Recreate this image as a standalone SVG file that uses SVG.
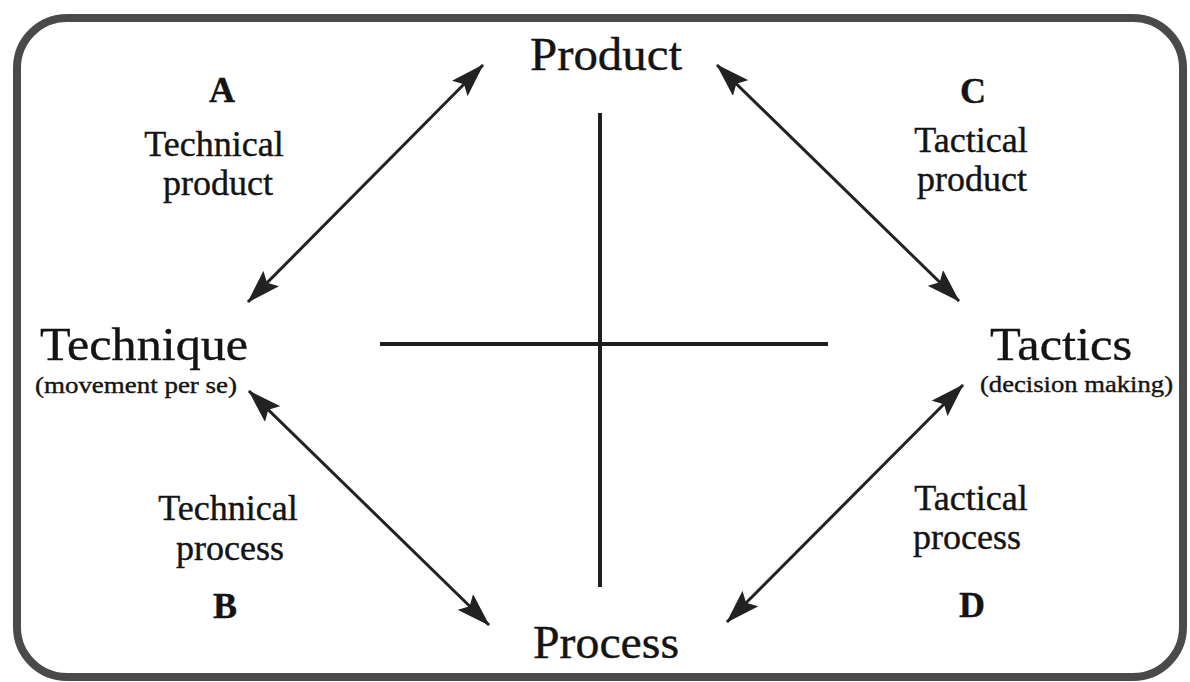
<svg xmlns="http://www.w3.org/2000/svg" width="1190" height="682" viewBox="0 0 1190 682">
<style>
text{font-family:"Liberation Serif","Times New Roman",serif;fill:#141414;stroke:#141414;stroke-width:0.4}
.big{font-size:47px}
.lab{font-size:36px;text-anchor:middle}
.let{font-size:36px;font-weight:bold;text-anchor:middle}
.sub{font-size:24px}
.con{stroke:#222;stroke-width:3;fill:none;marker-start:url(#ah);marker-end:url(#ah)}
.axis{stroke:#1e1e1e;stroke-width:4;fill:none}
</style>
<defs>
<marker id="ah" markerUnits="userSpaceOnUse" viewBox="0 0 34 22" refX="33" refY="11" markerWidth="34" markerHeight="22" orient="auto-start-reverse">
<path d="M0,0 L34,11 L0,22 L6,11 z" fill="#222"/>
</marker>
</defs>
<rect x="0" y="0" width="1190" height="682" fill="#ffffff"/>
<rect id="frame" x="17" y="18" width="1166" height="659" rx="50" ry="50" fill="none" stroke="#4a4a4a" stroke-width="8"/>
<g id="axes">
<line class="axis" x1="600" y1="113" x2="600" y2="587"/>
<line class="axis" x1="380" y1="344" x2="828" y2="344"/>
</g>
<g id="connectors">
<line class="con" x1="248" y1="302" x2="483" y2="65"/>
<line class="con" x1="717" y1="65" x2="959" y2="301"/>
<line class="con" x1="249" y1="391" x2="489" y2="625"/>
<line class="con" x1="727" y1="622" x2="963" y2="385"/>
</g>
<g id="product"><text class="big" x="606" y="70" text-anchor="middle" textLength="152" lengthAdjust="spacingAndGlyphs">Product</text></g>
<g id="process"><text class="big" x="606" y="658" text-anchor="middle" textLength="146" lengthAdjust="spacingAndGlyphs">Process</text></g>
<g id="technique">
<text class="big" x="40" y="360" font-size="49" textLength="208" lengthAdjust="spacingAndGlyphs">Technique</text>
<text class="sub" x="35" y="393" textLength="202" lengthAdjust="spacingAndGlyphs">(movement per se)</text>
</g>
<g id="tactics">
<text class="big" x="990" y="360" textLength="142" lengthAdjust="spacingAndGlyphs">Tactics</text>
<text class="sub" x="980" y="392" textLength="193" lengthAdjust="spacingAndGlyphs">(decision making)</text>
</g>
<g id="quadrant-a">
<text class="let" x="222" y="102">A</text>
<text class="lab" x="214" y="156">Technical</text>
<text class="lab" x="218" y="195">product</text>
</g>
<g id="quadrant-b">
<text class="lab" x="228" y="520">Technical</text>
<text class="lab" x="230" y="560">process</text>
<text class="let" x="225" y="618">B</text>
</g>
<g id="quadrant-c">
<text class="let" x="973" y="103">C</text>
<text class="lab" x="971" y="152">Tactical</text>
<text class="lab" x="972" y="191">product</text>
</g>
<g id="quadrant-d">
<text class="lab" x="971" y="510">Tactical</text>
<text class="lab" x="967" y="549">process</text>
<text class="let" x="972" y="617">D</text>
</g>
</svg>
